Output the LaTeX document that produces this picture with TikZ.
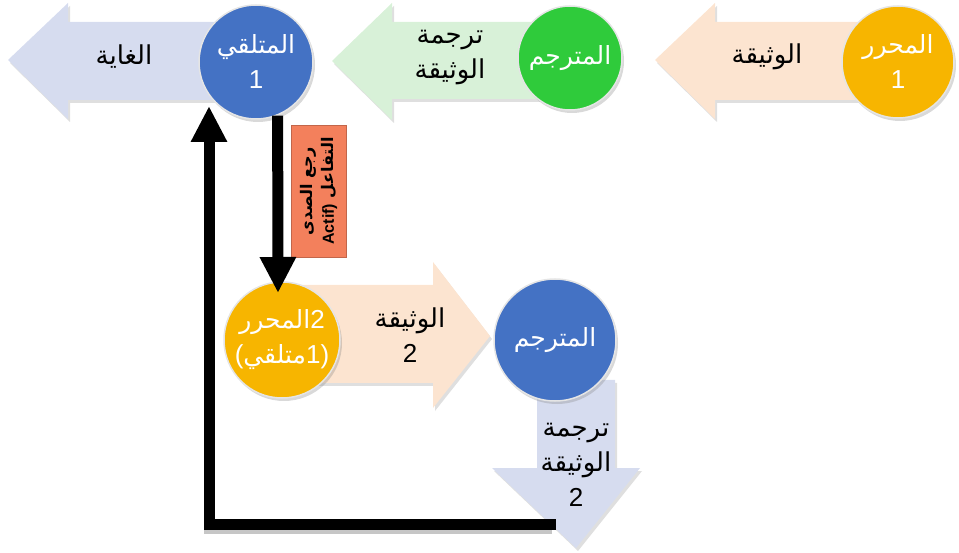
\documentclass[tikz,border=0pt]{standalone}
\usepackage{fontspec}
\newfontfamily\arabicfont[Script=Arabic]{DejaVu Sans}
\newfontfamily\digitfont{Liberation Sans}
\TeXXeTstate=1
\usetikzlibrary{arrows.meta,shadows}
\definecolor{cblue}{HTML}{4472C4}
\definecolor{cgreen}{HTML}{2FCB3B}
\definecolor{cgold}{HTML}{F7B500}
\definecolor{alav}{HTML}{D6DCEF}
\definecolor{agreen}{HTML}{D8F1D8}
\definecolor{apeach}{HTML}{FCE4D0}
\definecolor{cbox}{HTML}{F3805C}
\newcommand{\AR}[1]{\beginR #1\endR}
\newcommand{\DG}[1]{{\digitfont\fontsize{26}{35}\selectfont #1}}
\tikzset{
  blockarrow/.style={drop shadow={shadow xshift=2pt,shadow yshift=-3pt,opacity=0.25}},
  ball/.style={circle, inner sep=0pt, minimum size=#1, draw=white!80!gray, line width=1.5pt,
    text=white, align=center, font=\arabicfont\fontsize{25}{35}\selectfont,
    drop shadow={shadow xshift=2pt,shadow yshift=-3pt,opacity=0.3}},
  lbl/.style={align=center, text=black, font=\arabicfont\fontsize{26}{35}\selectfont},
  blackarrow/.style={line width=11pt, line join=miter, -{Triangle[length=36pt,width=34pt]}},
  labelbox/.style={fill=cbox, draw=cbox!80!black, line width=0.6pt, minimum width=132pt,
    minimum height=55pt, inner sep=1pt, align=center,
    font=\arabicfont\bfseries\fontsize{16}{21}\selectfont}
}
\begin{document}
\begin{tikzpicture}[x=1pt,y=-1pt]
\useasboundingbox (0,0) rectangle (959,553);
% block arrows
\fill[alav,blockarrow] (8,60) -- (68,3) -- (68,22) -- (235,22) -- (235,100) -- (68,100) -- (68,119) -- cycle;
\fill[agreen,blockarrow] (332,61) -- (392,3) -- (392,22) -- (560,22) -- (560,99) -- (392,99) -- (392,120) -- cycle;
\fill[apeach,blockarrow] (655,60) -- (715,3) -- (715,22) -- (890,22) -- (890,100) -- (715,100) -- (715,119) -- cycle;
\fill[apeach,blockarrow] (300,285) -- (433,285) -- (433,262) -- (490,336) -- (433,408) -- (433,383) -- (300,383) -- cycle;
\fill[alav,blockarrow] (537,380) -- (615,380) -- (615,468) -- (640,468) -- (576,548) -- (492,468) -- (537,468) -- cycle;
% arrow labels
\node[lbl] (tgoal) at (124,57) {\AR{الغاية}};
\node[lbl] (ttr1) at (450,58) {\AR{ترجمة}\\ \AR{الوثيقة}};
\node[lbl] (tdoc1) at (767,57) {\AR{الوثيقة}};
\node[lbl] (tdoc2) at (410,335) {\AR{الوثيقة}\\ \DG{2}};
% circles
\node[ball=114pt, fill=cblue] (rec1) at (256,62) {\AR{المتلقي}\\ \DG{1}};
\node[ball=104pt, fill=cgreen] (tr1) at (570,58) {\AR{المترجم}};
\node[ball=112pt, fill=cgold] (auth1) at (898,62) {\AR{المحرر}\\ \DG{1}};
\node[ball=116pt, fill=cgold] (auth2) at (282,340) {\AR{المحرر}\DG{2}\\ \DG{(}\AR{متلقي}\DG{1)}};
\node[ball=122pt, fill=cblue] (tr2) at (555,340) {\AR{المترجم}};
\node[lbl] (ttr2) at (576,465) {\AR{ترجمة}\\ \AR{الوثيقة}\\ \DG{2}};
% feedback label
\node[labelbox, rotate=90] (fb) at (319,191) {\AR{رجع الصدى}\\ {\digitfont\bfseries Actif)} \AR{التفاعل}};
% black connectors
\coordinate (upTip) at (209,106);
\coordinate (corner) at (209,524);
\coordinate (lineEnd) at (556,524);
\coordinate (dnTip) at (278,293);
\draw[gray!45, line width=6pt] ([xshift=-4pt]lineEnd |- 0,531) -- (204,531);
\draw[blackarrow] (lineEnd) -- (corner) -- (upTip);
\draw[blackarrow] (rec1.-68) -- (dnTip);
\end{tikzpicture}
\end{document}
